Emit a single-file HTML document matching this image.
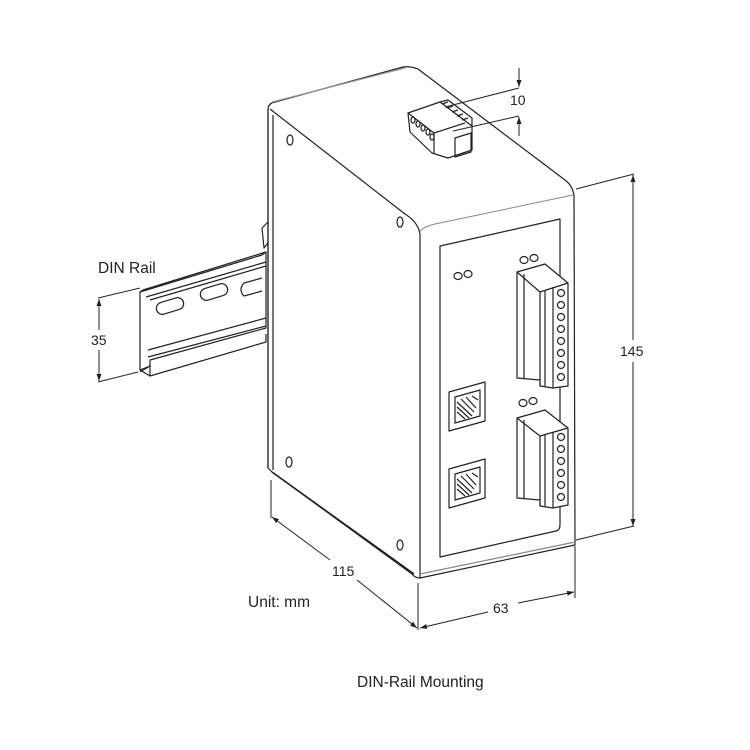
<!DOCTYPE html>
<html><head><meta charset="utf-8"><style>
html,body{margin:0;padding:0;background:#fff;}
svg{display:block;}
text{font-family:"Liberation Sans",sans-serif;fill:#222;}
</style></head><body>
<svg width="750" height="750" viewBox="0 0 750 750" xmlns="http://www.w3.org/2000/svg">
<defs>
<marker id="a" markerWidth="8" markerHeight="8" refX="7" refY="4" orient="auto" markerUnits="userSpaceOnUse"><path d="M0,1.5 L7,4 L0,6.5 Z" fill="#222"/></marker>
</defs>
<g fill="none" stroke="#222" stroke-width="1.2" stroke-linejoin="round">
<!-- DIN rail -->
<path d="M262,228 L268,222 L270,240 L264,248 Z" fill="#fff"/>
<path d="M140,292 L140,370 L150,366 L150,360 L266,328 L266,252 L143,290 Z" fill="#fff"/>
<path d="M140,292 L262,255 L266,252 M146,297 L266,262 M150,300 L266,266"/>
<path d="M140,372 L150,366 M148,350 L266,318 M148,357 L266,326 M140,370 L150,376 L266,342 L266,334"/>
<path d="M150,364 L150,376"/>
<rect x="156" y="300" width="28" height="12" rx="6" transform="rotate(-17 170 306)"/>
<rect x="200" y="286" width="28" height="12" rx="6" transform="rotate(-17 214 292)"/>
<path d="M262,278 L244,283 Q238,290 244,296 L262,291"/>
<!-- device body -->
<path d="M268,110 Q268,103 275,102 L403,67 Q410,66 418,69 L565,180 Q573,186 574,196 L575,545 L420,578 Q415,578 412,574 L272,472 L268,468 Z" fill="#fff"/>
<!-- top face lines -->
<path d="M270,109 L405,214 Q418,222 420,234 L420,578"/>
<path d="M420,231 Q425,226 435,224 L573,195" stroke="#888" stroke-width="1"/>
<path d="M272,102 L405,68" stroke="#999"/>
<path d="M268,110 L268,468 M273,115 L273,470"/>
<path d="M272,472 L414,574" stroke-width="1.6"/>
<path d="M420,574 L575,542" stroke="#888"/>
<!-- front inner panel -->
<path d="M440,246 L560,219 L560,525 Q560,530 556,531 L440,557 Z"/>
<!-- screws -->
<ellipse cx="290" cy="140" rx="3" ry="5"/><ellipse cx="400" cy="222" rx="3" ry="5"/>
<ellipse cx="289" cy="462" rx="3" ry="5"/><ellipse cx="400" cy="545" rx="3" ry="5"/>
<!-- LEDs -->
<ellipse cx="458" cy="276" rx="4" ry="3.5"/><ellipse cx="468" cy="274" rx="4" ry="3.5"/>
<ellipse cx="524" cy="260" rx="4" ry="3.5"/><ellipse cx="534" cy="258" rx="4" ry="3.5"/>
<ellipse cx="523" cy="403" rx="4" ry="3.5"/><ellipse cx="533" cy="401" rx="4" ry="3.5"/>
<!-- upper terminal block -->
<path d="M517,272 L545,264 L568,283 L568,386 L553,388 L540,386 L540,380 L517,378 Z" fill="#fff"/>
<path d="M517,272 L540,292 L540,386 M524,274 L524,378 M540,292 L568,283 M553,287 L553,388 M545,290 L545,386"/>
<g>
<ellipse cx="561" cy="293" rx="3.5" ry="3.5"/><ellipse cx="561" cy="305" rx="3.5" ry="3.5"/><ellipse cx="561" cy="317" rx="3.5" ry="3.5"/><ellipse cx="561" cy="329" rx="3.5" ry="3.5"/><ellipse cx="561" cy="341" rx="3.5" ry="3.5"/><ellipse cx="561" cy="353" rx="3.5" ry="3.5"/><ellipse cx="561" cy="365" rx="3.5" ry="3.5"/><ellipse cx="561" cy="377" rx="3.5" ry="3.5"/>
</g>
<!-- lower terminal block -->
<path d="M517,418 L545,410 L568,428 L568,505 L553,508 L540,506 L540,500 L517,498 Z" fill="#fff"/>
<path d="M517,418 L540,436 L540,506 M524,420 L524,498 M540,436 L568,428 M553,432 L553,508 M545,434 L545,506"/>
<ellipse cx="561" cy="437" rx="3.5" ry="3.5"/><ellipse cx="561" cy="449" rx="3.5" ry="3.5"/><ellipse cx="561" cy="461" rx="3.5" ry="3.5"/><ellipse cx="561" cy="473" rx="3.5" ry="3.5"/><ellipse cx="561" cy="485" rx="3.5" ry="3.5"/><ellipse cx="561" cy="497" rx="3.5" ry="3.5"/>
<!-- RJ45 -->
<path d="M449,392 L485,382 L485,421 L449,431 Z M455,397 L480,390 L480,416 L455,423 Z"/>
<path d="M457,402 L472,416 M457,407 L469,418 M457,412 L465,419 M461,399 L474,412 M466,397 L476,408 M472,396 L478,400"/>
<path d="M449,469 L485,459 L485,498 L449,508 Z M455,474 L480,467 L480,493 L455,500 Z"/>
<path d="M457,479 L472,493 M457,484 L469,495 M457,489 L465,496 M461,476 L474,489 M466,474 L476,485 M472,473 L478,477"/>
<!-- top connector -->
<path d="M408,113 L440,102 L472,126 L472,150 L448,158 L432,153 L410,132 Z" fill="#fff"/>
<path d="M408,113 L434,133 L434,153 M434,133 L465,123 M440,102 L448,100 L472,118 L472,126"/>
<path d="M455,138 L471,133 L471,152 L455,157 Z"/>
<ellipse cx="413" cy="120" rx="2" ry="3"/><ellipse cx="418" cy="124" rx="2" ry="3"/><ellipse cx="423" cy="128" rx="2" ry="3"/><ellipse cx="428" cy="132" rx="2" ry="3"/><ellipse cx="432" cy="137" rx="2" ry="3"/>
<path d="M442,104 L448,102 M447,108 L453,106 M452,112 L458,110 M457,116 L463,114 M462,120 L468,118"/>
</g>
<!-- dimension lines -->
<g fill="none" stroke="#222" stroke-width="1">
<!-- 10 -->
<path d="M445,107 L519,88 M453,131 L519,116"/>
<path d="M519,68 L519,87" marker-end="url(#a)"/>
<path d="M519,136 L519,117" marker-end="url(#a)"/>
<!-- 145 -->
<path d="M576,189 L634,174 M576,540 L634,526"/>
<path d="M633,340 L633,175" marker-end="url(#a)"/>
<path d="M633,362 L633,526" marker-end="url(#a)"/>
<!-- 35 -->
<path d="M98,298 L140,288 M98,382 L138,372"/>
<path d="M99,330 L99,299" marker-end="url(#a)"/>
<path d="M99,350 L99,381" marker-end="url(#a)"/>
<!-- 115 -->
<path d="M271,480 L271,518 M418,583 L418,630"/>
<path d="M330,560 L272,517" marker-end="url(#a)"/>
<path d="M357,580 L417,628" marker-end="url(#a)"/>
<!-- 63 -->
<path d="M575,546 L575,598"/>
<path d="M488,612 L420,628" marker-end="url(#a)"/>
<path d="M518,603 L574,592" marker-end="url(#a)"/>
</g>
<g font-size="14">
<text x="510" y="105">10</text>
<text x="620" y="356">145</text>
<text x="91" y="345">35</text>
<text x="332" y="576">115</text>
<text x="493" y="613">63</text>
</g>
<g font-size="15.5">
<text x="98" y="273">DIN Rail</text>
<text x="248" y="607">Unit: mm</text>
<text x="357" y="687">DIN-Rail Mounting</text>
</g>
</svg>
</body></html>
